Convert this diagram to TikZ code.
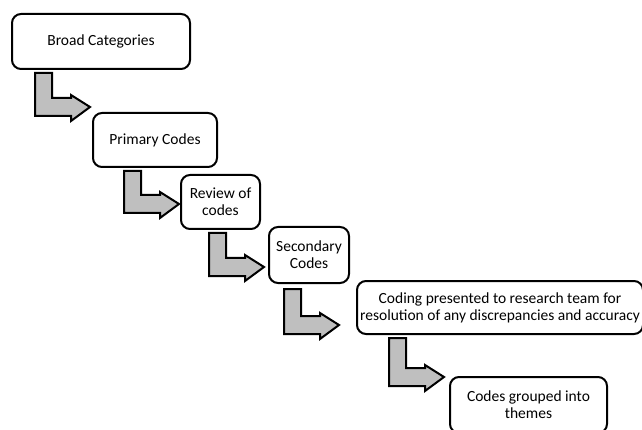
\documentclass[tikz,border=0pt]{standalone}
\usepackage{fontspec}
\setmainfont{Carlito}
\usetikzlibrary{calc}
\tikzset{
  stepbox/.style={draw=black, line width=2pt, rounded corners=9pt, fill=white,
    inner sep=0pt, align=center, font=\fontsize{15.5}{17}\selectfont},
  arrowfill/.style={draw=black, line width=2pt, fill=black!25, line join=miter},
  pics/bentarrow/.style={code={
    \draw[arrowfill] (0,0) -- (0,{#1}) -- (36,{#1}) -- (36,{#1+5}) -- (55,{#1-9})
      -- (36,{#1-21}) -- (36,{#1-18}) -- (17,{#1-18}) -- (17,0) -- cycle;
  }}
}
\begin{document}
\begin{tikzpicture}[x=1pt,y=-1pt]
\useasboundingbox (0,0) rectangle (642,430);
\begin{scope}
\clip (0,0) rectangle (642,430);
\node[stepbox, minimum width=178pt, minimum height=55pt] (b1) at (101,41.5) {Broad Categories};
\node[stepbox, minimum width=124pt, minimum height=54pt] (b2) at (155,140) {Primary Codes};
\node[stepbox, minimum width=79pt, minimum height=54pt] (b3) at (220.5,202) {Review of\\codes};
\node[stepbox, minimum width=80pt, minimum height=56pt] (b4) at (309,255) {Secondary\\Codes};
\node[stepbox, minimum width=286pt, minimum height=53pt] (b5) at (500,307.5) {Coding presented to research team for\\resolution of any discrepancies and accuracy};
\node[stepbox, minimum width=157pt, minimum height=56pt] (b6) at (528.5,405) {Codes grouped into\\themes};
\coordinate (a1) at ($(b1.south west)+(24,3)$);
\coordinate (a2) at ($(b2.south west)+(32,3)$);
\coordinate (a3) at ($(b3.south west)+(29,3)$);
\coordinate (a4) at ($(b4.south west)+(16,5)$);
\coordinate (a5) at ($(b5.south west)+(33,3)$);
\pic at (a1) {bentarrow=43};
\pic at (a2) {bentarrow=42};
\pic at (a3) {bentarrow=43};
\pic at (a4) {bentarrow=45};
\pic at (a5) {bentarrow=48};
\end{scope}
\end{tikzpicture}
\end{document}
